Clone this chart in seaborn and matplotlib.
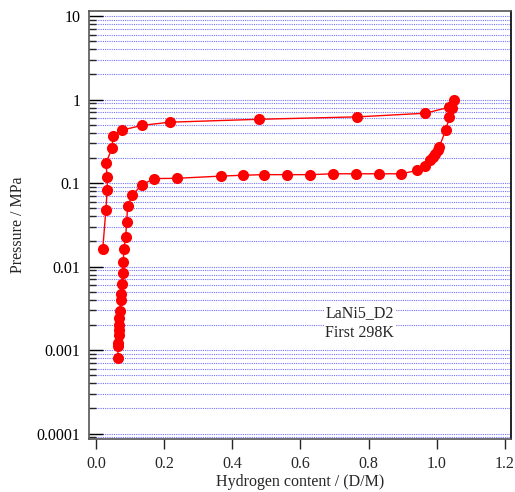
import numpy as np
import matplotlib
matplotlib.use("Agg")
import matplotlib.pyplot as plt
import seaborn as sns
import pandas as pd

# absorption branch (upper plateau)
abs_x = [0.020, 0.029, 0.033, 0.033, 0.029, 0.048, 0.049, 0.076, 0.135, 0.216,
         0.479, 0.767, 0.966, 1.037, 1.051]
abs_p = [0.0164, 0.048, 0.0836, 0.117, 0.174, 0.264, 0.364, 0.43, 0.49, 0.535,
         0.58, 0.62, 0.685, 0.81, 1.0]

# desorption branch (lower plateau)
des_x = [1.044, 1.037, 1.026, 1.007, 1.002, 0.995, 0.988, 0.980, 0.966, 0.943,
         0.896, 0.830, 0.762, 0.695, 0.628, 0.561, 0.494, 0.430, 0.366, 0.238,
         0.171, 0.134, 0.107, 0.093, 0.090, 0.087, 0.082, 0.080, 0.078, 0.075,
         0.074, 0.072, 0.070, 0.068, 0.068, 0.067, 0.067, 0.066, 0.065, 0.064]
des_p = [0.79, 0.61, 0.43, 0.27, 0.247, 0.224, 0.204, 0.188, 0.162, 0.142,
         0.129, 0.129, 0.129, 0.129, 0.126, 0.126, 0.126, 0.124, 0.121, 0.114,
         0.113, 0.095, 0.072, 0.053, 0.034, 0.0227, 0.0162, 0.0114, 0.0083, 0.00625,
         0.0047, 0.0040, 0.00297, 0.0024, 0.0020, 0.00173, 0.00153, 0.00122, 0.00113, 0.00081]

ytick_vals = [0.0001, 0.001, 0.01, 0.1, 1, 10]
ytick_labels = ["0.0001", "0.001", "0.01", "0.1", "1", "10"]
xtick_vals = [0.0, 0.2, 0.4, 0.6, 0.8, 1.0, 1.2]

df = pd.DataFrame({"x": abs_x + des_x, "p": abs_p + des_p})

sns.set_style("white")
plt.rcParams["font.family"] = ["Liberation Serif", "DejaVu Serif"]
plt.rcParams["font.size"] = 11.5

fig = plt.figure(figsize=(5.15, 4.92), dpi=100)
ax = fig.add_axes([89 / 515, 1 - 439 / 492, (511 - 89) / 515, (439 - 11) / 492])

ax.set_yscale("log")
ax.set_xlim(-0.0205, 1.2176)
ax.set_ylim(10 ** -4.065, 10 ** 1.06)

sns.lineplot(data=df, x="x", y="p", sort=False, estimator=None, ax=ax,
             color="red", linewidth=1, marker="o", markersize=8,
             markeredgewidth=0, markerfacecolor="red")

ax.yaxis.grid(True, which="both", color=(0.45, 0.45, 1.0), linestyle=(0, (1, 1)),
              linewidth=0.8)
ax.xaxis.grid(False)
ax.set_axisbelow(True)

ax.set_yticks(ytick_vals)
ax.set_yticklabels(ytick_labels)
ax.yaxis.set_minor_locator(matplotlib.ticker.LogLocator(base=10, subs=np.arange(2, 10)))
ax.yaxis.set_minor_formatter(matplotlib.ticker.NullFormatter())
ax.tick_params(axis="y", which="major", direction="in", length=10, width=1, left=True,
               labelsize=11.5, colors="black", pad=6)
ax.tick_params(axis="y", which="minor", direction="in", length=5, width=1, left=True)
ax.set_xticks(xtick_vals)
ax.set_xticklabels([f"{v:.1f}" for v in xtick_vals])
ax.tick_params(axis="x", direction="out", length=7, width=1, bottom=True, labelsize=11.5, pad=5)

for s in ["left", "bottom", "top"]:
    ax.spines[s].set_color("#555555")
    ax.spines[s].set_linewidth(1.2)
ax.spines["right"].set_color("black")
ax.spines["right"].set_linewidth(1.2)

ax.set_xlabel("Hydrogen content / (D/M)", fontsize=11.5, labelpad=2)
ax.set_ylabel("Pressure / MPa", fontsize=11.5, labelpad=8)

ax.text(0.673, 10 ** -2.675, "LaNi5_D2\nFirst 298K", fontsize=11.5, va="center", ha="left",
        linespacing=1.3,
        bbox=dict(facecolor="white", edgecolor="none", pad=1))

fig.savefig("out.png", dpi=100)
